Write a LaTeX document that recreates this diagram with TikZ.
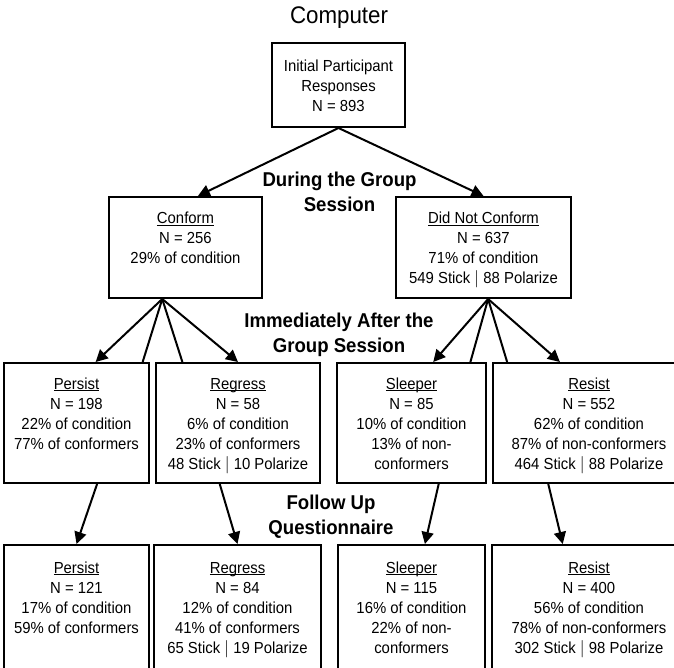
\documentclass[tikz,border=0pt]{standalone}
\usepackage{fontspec}
\setmainfont[FakeStretch=0.93]{Liberation Sans}
\usepackage{tikz}
\usetikzlibrary{calc}
\usetikzlibrary{arrows.meta,positioning}
\newcommand{\pcond}{\% of condition}
\newcommand{\blankln}{\strut}
\newcommand{\firstln}{\rule{0pt}{18pt}}
\newcommand{\uhead}[1]{\firstln\underline{\smash{#1}\vphantom{C}}}

\begin{document}
\begin{tikzpicture}[x=1pt,y=-1pt,
    cellbox/.style={draw, line width=2pt, align=center, inner sep=0pt,
      font=\fontsize{16}{20}\selectfont},
    phase/.style={align=center, inner sep=0pt, font=\bfseries\fontsize{20}{25}\selectfont},
    flow/.style={line width=2pt, -{Triangle[length=12pt,width=12pt]}},
    branch/.style={line width=2pt}]
  \clip (0,0) rectangle (674,667);

  \node (title) at (339,18) {\fontsize{24}{28}\selectfont Computer};

  % group session
  \node[cellbox, minimum width=133pt, minimum height=84pt] (init) at (338.5,85)
    {\firstln Initial Participant\\Responses\\N = 893\blankln};
  \node[cellbox, minimum width=153pt, minimum height=101pt] (conf) at (185.5,247.5)
    {\uhead{Conform}\\N = 256\\29\pcond\\\blankln};
  \node[cellbox, minimum width=175pt, minimum height=101pt] (nconf) at (483.5,247.5)
    {\uhead{Did Not Conform}\\N = 637\\71\pcond\\549 Stick $|$ 88 Polarize\blankln};
  \node[phase] (during) at (339.5,191.5) {During the Group\\Session};

  % immediately after
  \node[cellbox, minimum width=145pt, minimum height=120pt] (persA) at (76.5,423)
    {\uhead{Persist}\\N = 198\\22\pcond\\77\% of conformers\\\blankln};
  \node[cellbox, minimum width=164pt, minimum height=120pt] (regrA) at (238,423)
    {\uhead{Regress}\\N = 58\\6\pcond\\23\% of conformers\\48 Stick $|$ 10 Polarize\blankln};
  \node[cellbox, minimum width=149pt, minimum height=120pt] (sleeA) at (411.5,423)
    {\uhead{Sleeper}\\N = 85\\10\pcond\\13\% of non-\\conformers\blankln};
  \node[cellbox, minimum width=192pt, minimum height=120pt] (resiA) at (589,423)
    {\uhead{Resist}\\N = 552\\62\pcond\\87\% of non-conformers\\464 Stick $|$ 88 Polarize\blankln};
  \node[phase] (after) at (339,335) {Immediately After the\\Group Session};

  % follow up
  \node[cellbox, minimum width=145pt, minimum height=124pt] (persB) at (76.5,607)
    {\uhead{Persist}\\N = 121\\17\pcond\\59\% of conformers\\\blankln};
  \node[cellbox, minimum width=167pt, minimum height=124pt] (regrB) at (237.5,607)
    {\uhead{Regress}\\N = 84\\12\pcond\\41\% of conformers\\65 Stick $|$ 19 Polarize\blankln};
  \node[cellbox, minimum width=147pt, minimum height=124pt] (sleeB) at (411.5,607)
    {\uhead{Sleeper}\\N = 115\\16\pcond\\22\% of non-\\conformers\blankln};
  \node[cellbox, minimum width=194pt, minimum height=124pt] (resiB) at (589,607)
    {\uhead{Resist}\\N = 400\\56\pcond\\78\% of non-conformers\\302 Stick $|$ 98 Polarize\blankln};
  \node[phase] (follow) at (331,516.5) {Follow Up\\Questionnaire};

  % connectors
  \draw[flow] (init.south) -- ($(conf.north west)!0.58!(conf.north east)$);
  \draw[flow] (init.south) -- (nconf.north);

  \coordinate (cfork) at ($(conf.south west)!0.35!(conf.south east)$);
  \draw[flow] (cfork) -- ($(persA.north west)!0.63!(persA.north east)$);
  \draw[branch] (cfork) -- ($(persA.north west)!0.95!(persA.north east)$);
  \draw[branch] (cfork) -- ($(regrA.north west)!0.165!(regrA.north east)$);
  \draw[flow] (cfork) -- (regrA.north);

  \coordinate (nfork) at ($(nconf.south west)!0.526!(nconf.south east)$);
  \draw[flow] (nfork) -- ($(sleeA.north west)!0.644!(sleeA.north east)$);
  \draw[branch] (nfork) -- ($(sleeA.north west)!0.89!(sleeA.north east)$);
  \draw[branch] (nfork) -- ($(resiA.north west)!0.078!(resiA.north east)$);
  \draw[flow] (nfork) -- ($(resiA.north west)!0.35!(resiA.north east)$);

  \draw[flow] ($(persA.south west)!0.64!(persA.south east)$) -- (persB.north);
  \draw[flow] ($(regrA.south west)!0.39!(regrA.south east)$) -- (regrB.north);
  \draw[flow] ($(sleeA.south west)!0.68!(sleeA.south east)$) -- ($(sleeB.north west)!0.59!(sleeB.north east)$);
  \draw[flow] ($(resiA.south west)!0.29!(resiA.south east)$) -- ($(resiB.north west)!0.366!(resiB.north east)$);
\end{tikzpicture}
\end{document}
